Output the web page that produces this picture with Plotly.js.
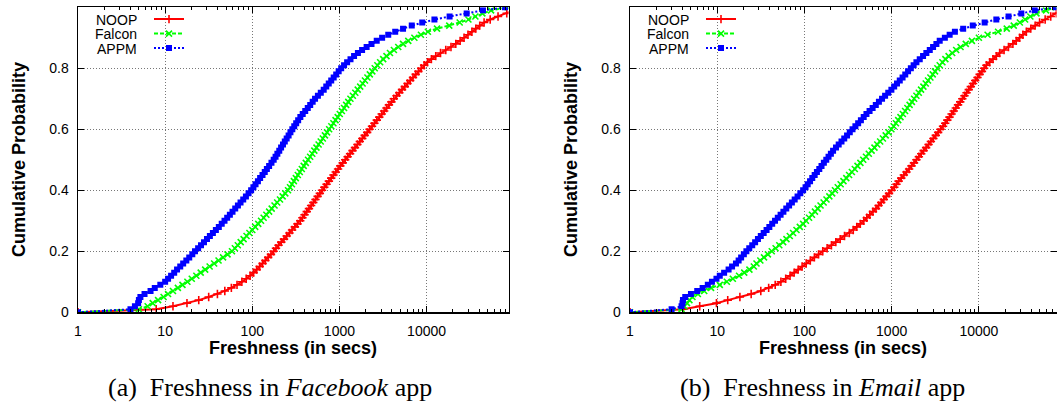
<!DOCTYPE html>
<html>
<head>
<meta charset="utf-8">
<script src="https://cdn.plot.ly/plotly-3.0.1.min.js"></script>
<style>
html,body{margin:0;padding:0;background:#fff;}
#chart{width:1057px;height:408px;}
</style>
</head>
<body>
<div id="chart"></div>
<script>
// Cumulative probability levels (y values of every point)
const cumProb = [0,0.01,0.02,0.03,0.04,0.05,0.06,0.07,0.08,0.09,0.1,
0.11,0.12,0.13,0.14,0.15,0.16,0.17,0.18,0.19,0.2,
0.21,0.22,0.23,0.24,0.25,0.26,0.27,0.28,0.29,0.3,
0.31,0.32,0.33,0.34,0.35,0.36,0.37,0.38,0.39,0.4,
0.41,0.42,0.43,0.44,0.45,0.46,0.47,0.48,0.49,0.5,
0.51,0.52,0.53,0.54,0.55,0.56,0.57,0.58,0.59,0.6,
0.61,0.62,0.63,0.64,0.65,0.66,0.67,0.68,0.69,0.7,
0.71,0.72,0.73,0.74,0.75,0.76,0.77,0.78,0.79,0.8,
0.81,0.82,0.83,0.84,0.85,0.86,0.87,0.88,0.89,0.9,
0.91,0.92,0.93,0.94,0.95,0.96,0.97,0.98,0.99,1];

const seriesNames = ['NOOP', 'Falcon', 'APPM'];

// (a) Facebook app: freshness (secs) at each cumulative probability level
const facebookNOOP = [1,7.9,12.3,17.8,24.3,31.6,39.8,48.4,57.5,66.8,75.9,
85.1,94.4,103.5,112.2,121.6,131.2,141.3,152.1,163.7,175.8,
187,200,215,231,248,267,286,308,330,355,
376,398,422,447,473,501,531,562,596,631,
670,712,757,804,854,907,964,1023,1091,1164,
1242,1324,1413,1507,1607,1714,1828,1950,2080,2218,
2365,2518,2685,2864,3055,3258,3467,3698,3945,4207,
4519,4864,5224,5623,6039,6486,6982,7499,8054,8670,
9376,10230,11350,12740,14450,16600,19050,21630,24270,26920,
29850,33110,36730,40740,45710,53700,66070,83180,100000,120200];

const facebookFalcon = [1,5,6.3,7.2,8.3,9.6,10.8,12.3,14.0,15.8,18.0,
20.2,22.8,25.6,28.8,32.4,36.5,41.0,46.2,52.0,58.5,
63.1,68.2,73.6,79.5,85.9,92.7,100,108,117,126,
135,145,156,167,180,193,208,223,239,257,
271,285,300,316,333,351,370,389,411,436,
461,488,515,545,577,610,645,682,721,762,
807,853,902,955,1009,1067,1130,1194,1262,1337,
1426,1521,1622,1730,1845,1963,2094,2234,2382,2541,
2723,2931,3177,3467,3802,4217,4732,5370,6166,7244,
8610,10350,13180,18200,23990,30200,36300,43650,54950,85110];

const facebookAPPM = [1,4,4.5,4.9,5,5.2,5.8,6.8,7.6,8.8,10,
10.8,11.7,12.7,13.7,14.9,16.1,17.5,18.9,20.5,22,
23.9,25.8,27.9,30.2,32.6,35.3,38.2,41.3,44.6,48,
51.5,55.3,59.3,63.7,68.4,73.3,78.7,84.5,90.6,97,
103,109,116,123,131,139,147,156,166,176,
185,194,204,214,225,236,248,261,274,288,
303,319,336,356,379,405,433,462,493,525,
566,611,660,706,754,805,859,918,980,1047,
1130,1225,1340,1472,1629,1820,2051,2333,2679,3090,
3631,4365,5370,6761,8913,12300,18370,28840,44360,79430];

// (b) Email app
const emailNOOP = [1,4.1,6.3,9.8,13.2,18.2,24.5,31.6,38.9,46.2,53.7,
61,68.4,76.2,84.7,94,104.7,116.7,130,145.2,162.2,
182,204,229,257,288,327,363,398,437,479,
519,562,610,661,708,759,813,871,933,1000,
1072,1135,1202,1288,1380,1479,1585,1690,1803,1923,
2051,2183,2328,2483,2649,2818,3006,3206,3412,3639,
3882,4111,4345,4603,4864,5152,5445,5768,6109,6457,
6839,7228,7656,8091,8570,9078,9638,10210,10840,11480,
12190,13300,14520,15850,17300,19450,21830,24550,26790,29310,
31990,34990,39360,44160,49660,57540,66680,77270,89130,100000];

const emailFalcon = [1,3.9,4.2,4.5,4.8,5.2,6.0,7.1,8.5,10.7,12.9,
15.1,17.8,20.4,23.4,26.3,28.2,31.2,34.4,38.1,42.2,
46.7,51.5,57.0,62.2,67.9,74.1,81.1,88.5,96.6,104,
113,122,132,142,153,166,179,193,208,224,
241,260,280,302,325,350,378,406,438,472,
508,547,589,635,684,738,794,855,923,993,
1054,1119,1189,1262,1343,1426,1514,1607,1706,1811,
1923,2046,2173,2312,2460,2612,2780,2958,3141,3342,
3556,3819,4130,4498,4943,5495,6166,7079,8318,10000,
12590,16600,20890,25120,29510,33880,38900,45710,58880,75860];

const emailAPPM = [1,3.0,3.9,4.0,4.05,4.3,5.0,5.9,6.8,7.8,8.7,
9.8,10.7,12.0,13.5,14.8,16.4,17.6,18.8,20.2,21.6,
23.3,25.2,27.2,29.3,31.6,34.1,36.8,39.6,42.7,46.0,
49.5,53.3,57.4,61.9,66.7,71.8,77.3,83.4,89.7,96.6,
103,109,116,123,131,139,148,157,167,178,
189,201,213,230,247,266,286,308,331,356,
384,413,444,478,514,558,605,658,714,776,
841,914,993,1069,1151,1239,1334,1432,1542,1660,
1786,1923,2099,2291,2500,2735,2985,3258,3556,4074,
4624,5309,6607,8511,11640,15850,21880,30690,43650,75900];

// Axis labels
const xTickVals = [1, 10, 100, 1000, 10000];
const xTickText = ['1', '10', '100', '1000', '10000'];
const xMinorVals = [2,3,4,5,6,7,8,9,20,30,40,50,60,70,80,90,200,300,400,500,600,700,800,900,
  2000,3000,4000,5000,6000,7000,8000,9000,20000,30000,40000,50000,60000,70000,80000];
const xTitle = 'Freshness (in secs)';
const yTitle = 'Cumulative Probability';
const captions = ['(a)&nbsp; Freshness in <i>Facebook</i> app', '(b)&nbsp; Freshness in <i>Email</i> app'];

// ---------- styling ----------
const W = 1057, H = 408;
const px = v => v / W;
const py = v => 1 - v / H;

const styles = [
  {color: '#ff0000', dash: 'solid', symbol: 'cross-thin', size: 6, mline: 1.6},
  {color: '#00ff00', dash: '4px,2px', symbol: 'x-thin', size: 6, mline: 1.6},
  {color: '#0000ff', dash: '2px,2px', symbol: 'square', size: 6, mline: 0}
];

function mk(xs, i, xa, ya, leg) {
  const s = styles[i];
  return {
    type: 'scatter', mode: 'lines+markers',
    x: xs, y: cumProb, xaxis: xa, yaxis: ya,
    name: ' ', legend: leg, hoverinfo: 'x+y',
    line: {color: s.color, width: 2, dash: s.dash},
    marker: {symbol: s.symbol, size: s.size, color: s.color,
             line: {color: s.color, width: s.mline}}
  };
}

const traces = [
  mk(facebookNOOP, 0, 'x', 'y', 'legend'),
  mk(facebookFalcon, 1, 'x', 'y', 'legend2'),
  mk(facebookAPPM, 2, 'x', 'y', 'legend3'),
  mk(emailNOOP, 0, 'x2', 'y2', 'legend4'),
  mk(emailFalcon, 1, 'x2', 'y2', 'legend5'),
  mk(emailAPPM, 2, 'x2', 'y2', 'legend6')
];

const tickFont = {family: 'Liberation Sans, Arial, sans-serif', size: 14, color: '#000'};
const gridDash = '1px,2px';

function xAxis(domain, anchor, maxLog) {
  return {
    type: 'log', domain: domain, anchor: anchor, range: [0, maxLog],
    tickmode: 'array', tickvals: xTickVals, ticktext: xTickText,
    ticks: 'inside', ticklen: 6, tickwidth: 1, tickcolor: '#000',
    showline: true, linecolor: '#000', linewidth: 1.5, mirror: 'ticks',
    showgrid: true, gridcolor: '#777', griddash: gridDash, gridwidth: 1,
    minor: {tickmode: 'array', tickvals: xMinorVals, ticks: 'inside', ticklen: 3,
            tickwidth: 1, tickcolor: '#000', showgrid: false},
    zeroline: false, tickfont: tickFont, ticklabelstandoff: 5, automargin: false,
    fixedrange: true
  };
}
function yAxis(anchor) {
  return {
    domain: [1 - 312.3 / H, 1 - 7.3 / H], anchor: anchor, range: [0, 1],
    tick0: 0, dtick: 0.2,
    ticks: 'inside', ticklen: 6, tickwidth: 1, tickcolor: '#000',
    showline: true, linecolor: '#000', linewidth: 1.5, mirror: 'ticks',
    showgrid: true, gridcolor: '#777', griddash: gridDash, gridwidth: 1,
    zeroline: false, tickfont: tickFont, ticklabelstandoff: 5, automargin: false,
    fixedrange: true
  };
}

const legRows = [19.5, 34, 48.5];
function legend(xLeft, row) {
  return {x: px(xLeft), xanchor: 'left', y: py(legRows[row]), yanchor: 'middle',
          bgcolor: 'rgba(0,0,0,0)', borderwidth: 0,
          font: {family: 'Liberation Sans, Arial, sans-serif', size: 14, color: '#000'}};
}

const annFont = {family: 'Liberation Sans, Arial, sans-serif', size: 14, color: '#000'};
const titleFont = {family: 'Liberation Sans, Arial, sans-serif', size: 18, color: '#000', weight: 'bold'};
const capFont = {family: 'Liberation Serif, Times New Roman, serif', size: 26, color: '#000'};

const annotations = [];
[[139, 0], [691, 1]].forEach(([xr, p]) => {
  seriesNames.forEach((n, i) => {
    annotations.push({xref: 'paper', yref: 'paper', x: px(xr), y: py(legRows[i]),
      xanchor: 'right', yanchor: 'middle', text: n, showarrow: false, font: annFont});
  });
});
[[293, 19, 270], [843, 571, 822]].forEach(([cx, yx, capx], p) => {
  annotations.push({xref: 'paper', yref: 'paper', x: px(cx), y: py(348), xanchor: 'center', yanchor: 'middle',
    text: '<b>' + xTitle + '</b>', showarrow: false, font: titleFont});
  annotations.push({xref: 'paper', yref: 'paper', x: px(yx), y: py(160), xanchor: 'center', yanchor: 'middle',
    text: '<b>' + yTitle + '</b>', textangle: -90, showarrow: false, font: titleFont});
  annotations.push({xref: 'paper', yref: 'paper', x: px(capx), y: py(387), xanchor: 'center', yanchor: 'middle',
    text: captions[p], showarrow: false, font: capFont});
});

const layout = {
  width: W, height: H,
  margin: {l: 0, r: 0, t: 0, b: 0, autoexpand: false},
  paper_bgcolor: '#fff', plot_bgcolor: '#fff',
  font: {family: 'Liberation Sans, Arial, sans-serif', size: 14, color: '#000'},
  showlegend: true,
  xaxis: xAxis([78 / W, 508.5 / W], 'y', 4.94),
  yaxis: yAxis('x'),
  xaxis2: xAxis([630 / W, 1056.5 / W], 'y2', 4.89),
  yaxis2: yAxis('x2'),
  legend: legend(149, 0), legend2: legend(149, 1), legend3: legend(149, 2),
  legend4: legend(701, 0), legend5: legend(701, 1), legend6: legend(701, 2),
  annotations: annotations
};

Plotly.newPlot('chart', traces, layout, {displayModeBar: false, staticPlot: true});
</script>
</body>
</html>
